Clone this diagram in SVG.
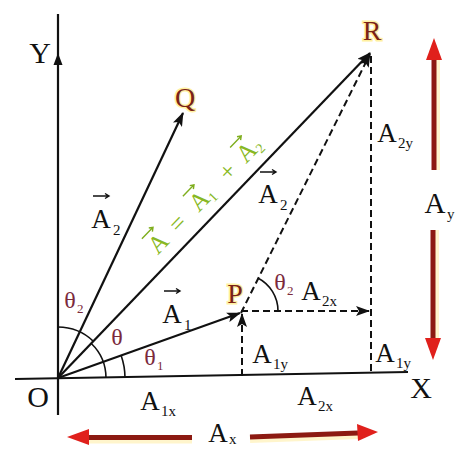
<svg xmlns="http://www.w3.org/2000/svg" xmlns:xlink="http://www.w3.org/1999/xlink" width="469" height="449" viewBox="0 0 469 449">
<style>
  text { font-family: "Liberation Serif", "DejaVu Serif", serif; }
  .lbl { font-size: 27px; fill: #111; text-anchor: middle; }
  .sub { font-size: 15px; fill: #111; }
  .pt { font-size: 28px; fill: #7a2218; text-anchor: middle; stroke: #fff0a0; stroke-width: 3; paint-order: stroke; }
  .ax { font-size: 30px; fill: #111; text-anchor: middle; }
  .th { font-size: 24px; fill: #7b2a3c; text-anchor: middle; }
  .ths { font-size: 13px; fill: #7b2a3c; }
  .ln { stroke: #111; stroke-width: 2.2; fill: none; }
  .dash { stroke: #111; stroke-width: 2; fill: none; stroke-dasharray: 7 4; }
  .arc { stroke: #111; stroke-width: 1.6; fill: none; }
  .vec { stroke: #111; stroke-width: 1.4; fill: none; }
  .gvec { stroke: #7fae1e; stroke-width: 1.4; fill: none; }
  .grn { font-size: 25px; fill: #88b824; }
  .gsub { font-size: 14px; fill: #88b824; }
  .shaft { stroke: #8c1a12; stroke-width: 5; fill: none; }
  .glow { stroke: #ffe680; stroke-width: 8; fill: none; opacity: 0.4; }
  .head { fill: #e0201c; }
</style>
<defs>
  <marker id="ah" markerUnits="userSpaceOnUse" viewBox="0 0 14 10" markerWidth="14" markerHeight="10" refX="13" refY="5" orient="auto">
    <path d="M0,0 L14,5 L0,10 L3,5 z" fill="#111"/>
  </marker>
  <path id="vec" class="vec" d="M-8,0 H8 M4,-2.5 L8,0 L4,2.5"/>
  <path id="gv" class="gvec" d="M-8,0 H8 M4.5,-2.5 L8,0 L4.5,2.5"/>
</defs>
<rect width="469" height="449" fill="#ffffff"/>

<g id="connectors">
  <!-- axes -->
  <line class="ln" x1="58" y1="415" x2="58" y2="14"/>
  <polygon points="58,53 53.5,65 62.5,65" fill="#111"/>
  <line class="ln" x1="15" y1="379" x2="408" y2="372"/>
  <!-- vectors -->
  <line class="ln" x1="58" y1="378" x2="183" y2="113" marker-end="url(#ah)"/>
  <line class="ln" x1="58" y1="378" x2="370" y2="53" marker-end="url(#ah)"/>
  <line class="ln" x1="58" y1="378" x2="240" y2="313" marker-end="url(#ah)"/>
  <line class="dash" x1="241" y1="313" x2="370" y2="54" marker-end="url(#ah)"/>
  <line class="dash" x1="241" y1="311" x2="369" y2="311" marker-end="url(#ah)"/>
  <line class="dash" x1="371" y1="56" x2="371" y2="373"/>
  <line class="dash" x1="242" y1="376" x2="242" y2="314" marker-end="url(#ah)"/>
  <!-- angle arcs -->
  <path class="arc" d="M125,378 A67,67 0 0,0 121.2,355.7"/>
  <path class="arc" d="M106,378 A48,48 0 0,0 91.3,343.5"/>
  <path class="arc" d="M58,327 A51,51 0 0,1 93.4,341.3"/>
  <path class="arc" d="M278,311 A37,37 0 0,0 257.8,278"/>
  <!-- red component arrows -->
  <g id="arrow-Ay-up">
    <line class="glow" x1="436" y1="58" x2="436" y2="170"/>
    <line class="shaft" x1="434" y1="58" x2="434" y2="170"/>
    <polygon class="head" points="434,38 426,60 442,60"/>
  </g>
  <g id="arrow-Ay-down">
    <line class="glow" x1="435" y1="230" x2="435" y2="340"/>
    <line class="shaft" x1="433" y1="230" x2="433" y2="340"/>
    <polygon class="head" points="433,360 425,338 441,338"/>
  </g>
  <g id="arrow-Ax-left">
    <line class="glow" x1="87" y1="439.5" x2="192" y2="439.5"/>
    <line class="shaft" x1="87" y1="437.5" x2="192" y2="437.5"/>
    <polygon class="head" points="67,437 89,429 89,445"/>
  </g>
  <g id="arrow-Ax-right">
    <line class="glow" x1="250" y1="439" x2="358" y2="435"/>
    <line class="shaft" x1="250" y1="437" x2="358" y2="433"/>
    <polygon class="head" points="378,432 357,424 358,441"/>
  </g>
</g>

<g id="node-O"><text class="ax" x="38" y="407">O</text></g>
<g id="node-X"><text class="ax" x="421" y="398">X</text></g>
<g id="node-Y"><text class="ax" x="40" y="63">Y</text></g>
<g id="node-Q"><text class="pt" x="185" y="107">Q</text></g>
<g id="node-R"><text class="pt" x="372" y="40">R</text></g>
<g id="node-P"><text class="pt" x="235" y="303">P</text></g>

<g id="labels">
  <!-- vector labels -->
  <text class="lbl" x="101" y="228">A</text><text class="sub" x="113" y="235">2</text><use xlink:href="#vec" x="101" y="196"/>
  <text class="lbl" x="268" y="203">A</text><text class="sub" x="280" y="210">2</text><use xlink:href="#vec" x="268" y="172"/>
  <text class="lbl" x="172" y="323">A</text><text class="sub" x="184" y="330">1</text><use xlink:href="#vec" x="172" y="291"/>
  <!-- components -->
  <text class="lbl" x="311" y="300">A</text><text class="sub" x="322" y="306">2x</text>
  <text class="lbl" x="262" y="363">A</text><text class="sub" x="273" y="369">1y</text>
  <text class="lbl" x="385" y="362">A</text><text class="sub" x="396" y="368">1y</text>
  <text class="lbl" x="307" y="405">A</text><text class="sub" x="318" y="411">2x</text>
  <text class="lbl" x="150" y="410">A</text><text class="sub" x="161" y="416">1x</text>
  <text class="lbl" x="387" y="142">A</text><text class="sub" x="398" y="148">2y</text>
  <text class="lbl" x="435" y="213" style="font-size:29px">A</text><text class="sub" x="447" y="219">y</text>
  <text class="lbl" x="218" y="442">A</text><text class="sub" x="229" y="444">x</text>
  <!-- angles -->
  <text class="th" x="117" y="345">θ</text>
  <text class="th" x="150" y="365">θ</text><text class="ths" x="157" y="370">1</text>
  <text class="th" x="70" y="308">θ</text><text class="ths" x="77" y="313">2</text>
  <text class="th" x="280" y="290">θ</text><text class="ths" x="287" y="295">2</text>
  <!-- resultant equation -->
  <g id="equation" transform="translate(164,249) rotate(-46)">
    <text class="grn" x="0" y="0" text-anchor="middle">A</text><use xlink:href="#gv" x="0" y="-23"/>
    <text class="grn" x="28" y="0" text-anchor="middle">=</text>
    <text class="grn" x="59" y="0" text-anchor="middle">A</text><use xlink:href="#gv" x="59" y="-23"/>
    <text class="gsub" x="68" y="4">1</text>
    <text class="grn" x="100" y="0" text-anchor="middle">+</text>
    <text class="grn" x="127" y="0" text-anchor="middle">A</text><use xlink:href="#gv" x="127" y="-23"/>
    <text class="gsub" x="136" y="4">2</text>
  </g>
</g>
</svg>
